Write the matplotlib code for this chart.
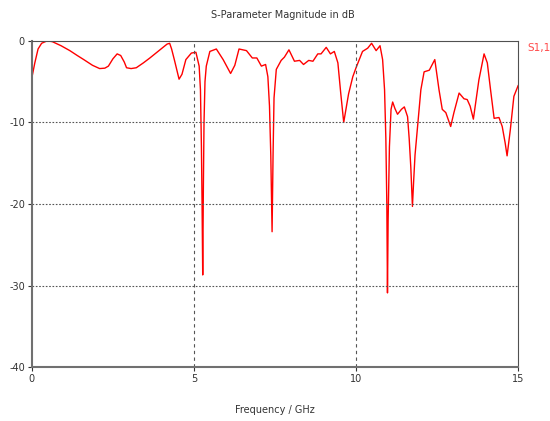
import numpy as np
import matplotlib.pyplot as plt

# S1,1 magnitude (GHz, dB)
freq = [0.0, 0.09, 0.19, 0.3, 0.47, 0.63, 0.9, 1.17, 1.4, 1.6, 1.87, 2.09, 2.25, 2.36, 2.5, 2.63,
        2.74, 2.85, 2.92, 3.06, 3.22, 3.44, 3.64, 3.95, 4.17, 4.25, 4.31, 4.4, 4.54, 4.63, 4.75,
        4.92, 5.06, 5.16, 5.2, 5.23, 5.25, 5.27, 5.29, 5.31, 5.34, 5.38, 5.49, 5.69,
        5.9, 6.13, 6.26, 6.39, 6.62, 6.8, 6.94, 7.08, 7.21, 7.28, 7.33, 7.37, 7.41,
        7.44, 7.47, 7.54, 7.69, 7.79, 7.93, 8.1, 8.26, 8.38, 8.54, 8.67, 8.82, 8.92,
        9.08, 9.21, 9.33, 9.44, 9.53, 9.62, 9.77, 9.9, 10.0, 10.2, 10.36, 10.48, 10.62,
        10.74, 10.82, 10.88, 10.92, 10.95, 10.97, 10.99, 11.03, 11.08, 11.13, 11.2,
        11.28, 11.4, 11.49, 11.59, 11.64, 11.69, 11.74, 11.78, 11.82, 11.9, 12.0, 12.1,
        12.26, 12.43, 12.56, 12.66, 12.77, 12.92, 13.02, 13.18, 13.33, 13.43, 13.52,
        13.62, 13.79, 13.95, 14.05, 14.15, 14.26, 14.41, 14.51, 14.6, 14.66, 14.76,
        14.87, 15.0]
s11 = [-4.5, -2.7, -1.0, -0.3, 0.0, -0.1, -0.6, -1.2, -1.8, -2.3, -3.0, -3.4, -3.35, -3.1, -2.2, -1.6,
       -1.8, -2.6, -3.3, -3.4, -3.3, -2.7, -2.1, -1.1, -0.4, -0.3, -1.0, -2.4, -4.7, -4.1, -2.3,
       -1.5, -1.4, -3.1, -6.0, -13.0, -20.0, -28.7, -18.0, -10.0, -5.0, -3.1, -1.3, -1.0,
       -2.3, -4.0, -3.0, -1.0, -1.2, -2.1, -2.1, -3.1, -2.9, -4.4, -8.0, -14.0, -23.4,
       -14.0, -7.0, -3.5, -2.4, -2.0, -1.1, -2.5, -2.4, -2.9, -2.4, -2.5, -1.6, -1.6,
       -0.8, -1.6, -1.3, -2.7, -6.5, -10.0, -6.5, -4.4, -3.3, -1.3, -0.9, -0.3, -1.2,
       -0.6, -2.3, -6.0, -12.0, -20.0, -30.9, -22.0, -13.0, -8.4, -7.5, -8.3,
       -9.0, -8.4, -8.1, -9.3, -12.0, -15.5, -20.3, -17.0, -14.0, -10.5, -6.0, -3.8,
       -3.6, -2.3, -6.0, -8.4, -8.8, -10.5, -8.8, -6.4, -7.1, -7.2, -8.0,
       -9.6, -4.8, -1.6, -2.7, -6.0, -9.5, -9.4, -10.5, -12.5, -14.1, -10.9,
       -6.8, -5.5]

xticks = [0, 5, 10, 15]
yticks = [0, -10, -20, -30, -40]

fig = plt.figure(figsize=(5.5, 4.21), dpi=100)
ax = fig.add_axes([0.058, 0.128, 0.884, 0.775])

ax.plot(freq, s11, color='#ff0000', lw=1.0)

ax.set_xlim(0, 15)
ax.set_ylim(-40, 0)
ax.set_xticks(xticks)
ax.set_yticks(yticks)
ax.set_yticklabels([str(v) for v in yticks], va='center_baseline')

for v in [5, 10]:
    ax.axvline(v, color='#555555', lw=0.8, ls=(0, (3, 3)))
for v in [-10, -20, -30]:
    ax.axhline(v, color='#555555', lw=0.8, ls=(0, (1.5, 1.5)))

for s in ['left', 'bottom']:
    ax.spines[s].set_color('#707070')
    ax.spines[s].set_linewidth(1.5)
for s in ['top', 'right']:
    ax.spines[s].set_color('#505050')
    ax.spines[s].set_linewidth(0.8)

ax.tick_params(axis='both', labelsize=7, colors='#333333', length=3, width=0.8, pad=2)

fig.text(0.515, 0.965, 'S-Parameter Magnitude in dB', ha='center', va='center',
         fontsize=7, color='#333333')
fig.text(0.5, 0.026, 'Frequency / GHz', ha='center', va='center',
         fontsize=7, color='#333333')
fig.text(0.958, 0.885, 'S1,1', ha='left', va='center', fontsize=7.5, color='#ff4a4a')

fig.savefig('out.png', dpi=100)
